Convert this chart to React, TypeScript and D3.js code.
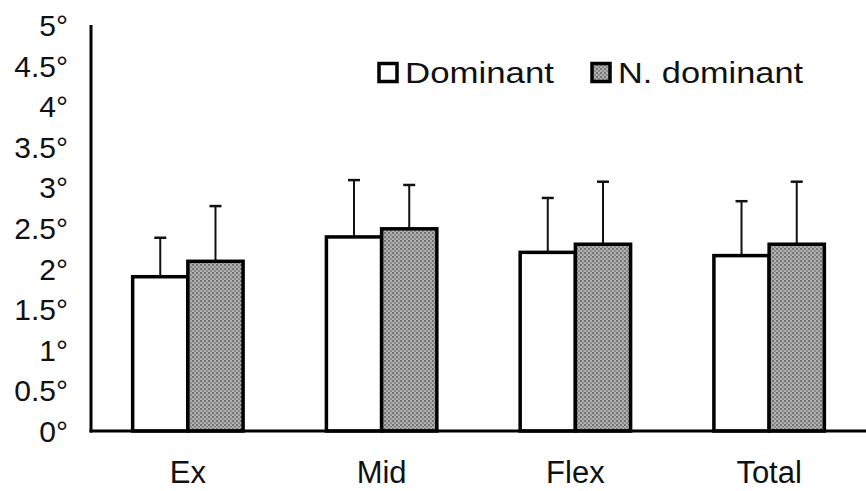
import React, { useEffect, useRef } from 'react';
import * as d3 from 'd3';

const categories = ['Ex', 'Mid', 'Flex', 'Total'];
const seriesNames = ['Dominant', 'N. dominant'];
const dominantMean = [1.9, 2.39, 2.2, 2.16];
const dominantErr = [2.38, 3.09, 2.87, 2.83];
const nonDominantMean = [2.09, 2.49, 2.3, 2.3];
const nonDominantErr = [2.77, 3.03, 3.07, 3.07];
const yTicks = [0, 0.5, 1, 1.5, 2, 2.5, 3, 3.5, 4, 4.5, 5];

const W = 866;
const H = 491;

function App() {
  const svgRef = useRef<SVGSVGElement | null>(null);

  useEffect(() => {
    const svg = d3.select(svgRef.current);
    svg.selectAll('*').remove();

    const left = 91;
    const right = 866;
    const top = 25;
    const bottom = 431;
    const font = 'Liberation Sans, Arial, sans-serif';

    const defs = svg.append('defs');
    const pat = defs.append('pattern')
      .attr('id', 'stipple')
      .attr('patternUnits', 'userSpaceOnUse')
      .attr('width', 4)
      .attr('height', 4);
    pat.append('rect').attr('width', 4).attr('height', 4).attr('fill', '#b0b0b0');
    pat.append('rect').attr('x', 0).attr('y', 0).attr('width', 2).attr('height', 2).attr('fill', '#747474');
    pat.append('rect').attr('x', 2).attr('y', 2).attr('width', 2).attr('height', 2).attr('fill', '#8a8a8a');

    const x = d3.scaleBand<string>()
      .domain(categories)
      .range([left, right])
      .paddingInner(0.43)
      .paddingOuter(0.215);

    const x1 = d3.scaleBand<string>()
      .domain(seriesNames)
      .range([0, x.bandwidth()]);

    const y = d3.scaleLinear().domain([0, 5]).range([bottom, top]);

    const rows = categories.map((c, i) => ({
      cat: c,
      vals: [
        { s: seriesNames[0], mean: dominantMean[i], err: dominantErr[i] },
        { s: seriesNames[1], mean: nonDominantMean[i], err: nonDominantErr[i] },
      ],
    }));

    const g = svg.append('g');

    // error bars (behind bars)
    rows.forEach(r => {
      r.vals.forEach(v => {
        const cx = (x(r.cat) ?? 0) + (x1(v.s) ?? 0) + x1.bandwidth() / 2;
        g.append('line')
          .attr('x1', cx).attr('x2', cx)
          .attr('y1', y(v.mean)).attr('y2', y(v.err))
          .attr('stroke', '#111').attr('stroke-width', 2);
        g.append('line')
          .attr('x1', cx - 6).attr('x2', cx + 6)
          .attr('y1', y(v.err)).attr('y2', y(v.err))
          .attr('stroke', '#111').attr('stroke-width', 2.5);
      });
    });

    rows.forEach(r => {
      r.vals.forEach((v, j) => {
        g.append('rect')
          .attr('x', (x(r.cat) ?? 0) + (x1(v.s) ?? 0))
          .attr('y', y(v.mean))
          .attr('width', x1.bandwidth())
          .attr('height', y(0) - y(v.mean))
          .attr('fill', j === 0 ? '#fff' : 'url(#stipple)')
          .attr('stroke', '#000')
          .attr('stroke-width', 3.5);
      });
    });

    // axes
    svg.append('line')
      .attr('x1', left).attr('x2', left)
      .attr('y1', top).attr('y2', bottom + 1.5)
      .attr('stroke', '#000').attr('stroke-width', 3);
    svg.append('line')
      .attr('x1', left - 1.5).attr('x2', right)
      .attr('y1', bottom).attr('y2', bottom)
      .attr('stroke', '#000').attr('stroke-width', 3);

    svg.append('g')
      .selectAll('text')
      .data(yTicks)
      .enter()
      .append('text')
      .attr('x', 68)
      .attr('y', d => y(d) + 11)
      .attr('text-anchor', 'end')
      .attr('font-family', font)
      .attr('font-size', 30)
      .attr('fill', '#111')
      .text(d => `${d}°`);

    svg.append('g')
      .selectAll('text')
      .data(categories)
      .enter()
      .append('text')
      .attr('x', d => (x(d) ?? 0) + x.bandwidth() / 2)
      .attr('y', 483)
      .attr('text-anchor', 'middle')
      .attr('font-family', font)
      .attr('font-size', 31)
      .attr('fill', '#111')
      .text(d => d);

    // legend
    const legend = svg.append('g');
    const items = [
      { name: seriesNames[0], x: 379, len: 149, fill: '#fff' },
      { name: seriesNames[1], x: 592, len: 185, fill: 'url(#stipple)' },
    ];
    items.forEach(it => {
      legend.append('rect')
        .attr('x', it.x).attr('y', 63.5)
        .attr('width', 18).attr('height', 18)
        .attr('fill', it.fill)
        .attr('stroke', '#000').attr('stroke-width', 3.5);
      legend.append('text')
        .attr('x', it.x + 26).attr('y', 83)
        .attr('font-family', font)
        .attr('font-size', 29)
        .attr('textLength', it.len)
        .attr('lengthAdjust', 'spacingAndGlyphs')
        .attr('fill', '#111')
        .text(it.name);
    });
  }, []);

  return (
    <svg ref={svgRef} width={W} height={H}
      style={{ position: 'absolute', left: 0, top: 0, background: '#fff', display: 'block' }} />
  );
}

export default App;
